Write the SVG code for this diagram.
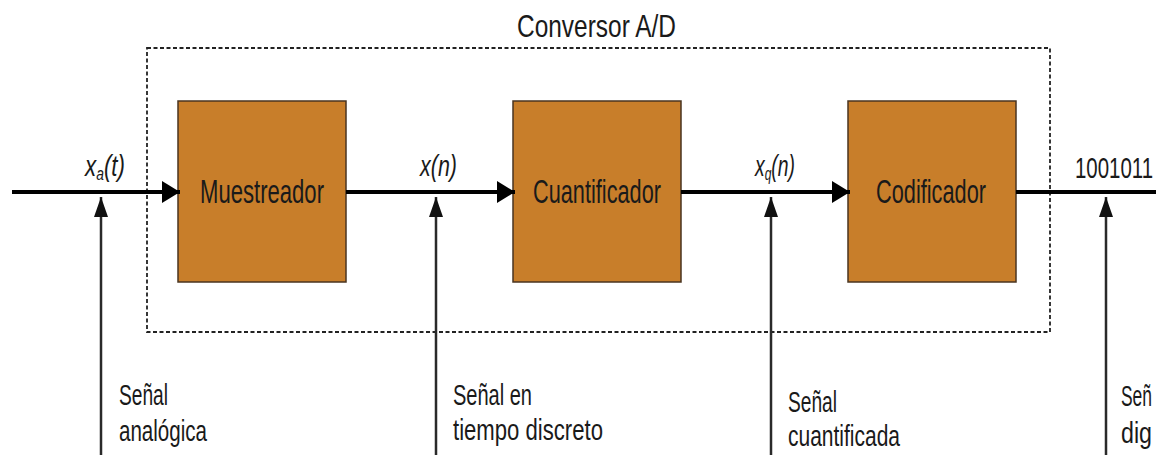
<svg xmlns="http://www.w3.org/2000/svg" width="1156" height="455" viewBox="0 0 1156 455">
  <style>
    .txt { font-family: "Liberation Sans", Arial, sans-serif; fill: #1a1a1a; }
    .block { fill: #C87E2A; stroke: #4a3520; stroke-width: 1.5; }
    .frame { fill: none; stroke: #222; stroke-width: 1.8; stroke-dasharray: 4 2.5; }
    .main { stroke: #000; stroke-width: 4; fill: none; }
    .probe { stroke: #2a2a2a; stroke-width: 2.5; fill: none; }
    .sig { font-style: italic; font-size: 29px; }
    .blk { font-size: 33px; }
    .note { font-size: 29px; }
  </style>
  <defs>
    <marker id="headH" markerUnits="userSpaceOnUse" markerWidth="20" markerHeight="24" refX="18" refY="11" orient="auto">
      <path d="M0,0 L18,11 L0,22 Z" fill="#000"/>
    </marker>
    <marker id="headV" markerUnits="userSpaceOnUse" markerWidth="22" markerHeight="16" refX="20" refY="7" orient="auto">
      <path d="M0,0 L20,7 L0,14 Z" fill="#111"/>
    </marker>
  </defs>

  <!-- converter boundary -->
  <g id="converter">
    <rect class="frame" x="147" y="48" width="903" height="284"/>
    <text class="txt" x="517" y="37" font-size="32" textLength="159" lengthAdjust="spacingAndGlyphs">Conversor A/D</text>
  </g>

  <!-- processing blocks -->
  <g id="muestreador">
    <rect class="block" x="178" y="101" width="168" height="181"/>
    <text class="txt blk" x="200" y="203" textLength="124" lengthAdjust="spacingAndGlyphs">Muestreador</text>
  </g>
  <g id="cuantificador">
    <rect class="block" x="513" y="101" width="168" height="181"/>
    <text class="txt blk" x="533" y="203" textLength="128" lengthAdjust="spacingAndGlyphs">Cuantificador</text>
  </g>
  <g id="codificador">
    <rect class="block" x="848" y="101" width="168" height="181"/>
    <text class="txt blk" x="876" y="203" textLength="110" lengthAdjust="spacingAndGlyphs">Codificador</text>
  </g>

  <!-- signal path and probe arrows -->
  <g id="connectors">
    <line class="main" x1="12" y1="192" x2="180" y2="192" marker-end="url(#headH)"/>
    <line class="main" x1="346" y1="192" x2="515" y2="192" marker-end="url(#headH)"/>
    <line class="main" x1="681" y1="192" x2="850" y2="192" marker-end="url(#headH)"/>
    <line class="main" x1="1016" y1="192" x2="1160" y2="192"/>

    <line class="probe" x1="101" y1="460" x2="101" y2="197" marker-end="url(#headV)"/>
    <line class="probe" x1="436" y1="460" x2="436" y2="197" marker-end="url(#headV)"/>
    <line class="probe" x1="771" y1="460" x2="771" y2="197" marker-end="url(#headV)"/>
    <line class="probe" x1="1106" y1="460" x2="1106" y2="197" marker-end="url(#headV)"/>
  </g>

  <!-- signal names -->
  <g id="signal-labels">
    <text class="txt sig" x="85" y="176" textLength="40" lengthAdjust="spacingAndGlyphs">x<tspan font-size="18" dy="4">a</tspan><tspan dy="-4">(t)</tspan></text>
    <text class="txt sig" x="420" y="176" textLength="37" lengthAdjust="spacingAndGlyphs">x(n)</text>
    <text class="txt sig" x="755" y="176" textLength="40" lengthAdjust="spacingAndGlyphs">x<tspan font-size="18" dy="4">q</tspan><tspan dy="-4">(n)</tspan></text>
    <text class="txt" x="1075" y="178" font-size="30" textLength="78" lengthAdjust="spacingAndGlyphs">1001011</text>
  </g>

  <!-- signal descriptions -->
  <g id="descriptions">
    <text class="txt note" x="119" y="405" textLength="49" lengthAdjust="spacingAndGlyphs">Señal</text>
    <text class="txt note" x="119" y="441" textLength="88" lengthAdjust="spacingAndGlyphs">analógica</text>

    <text class="txt note" x="453" y="405" textLength="79" lengthAdjust="spacingAndGlyphs">Señal en</text>
    <text class="txt note" x="453" y="440" textLength="150" lengthAdjust="spacingAndGlyphs">tiempo discreto</text>

    <text class="txt note" x="788" y="412" textLength="49" lengthAdjust="spacingAndGlyphs">Señal</text>
    <text class="txt note" x="788" y="446" textLength="112" lengthAdjust="spacingAndGlyphs">cuantificada</text>

    <text class="txt note" x="1121" y="406" textLength="31" lengthAdjust="spacingAndGlyphs">Señ</text>
    <text class="txt note" x="1121" y="443" textLength="31" lengthAdjust="spacingAndGlyphs">dig</text>
  </g>
</svg>
